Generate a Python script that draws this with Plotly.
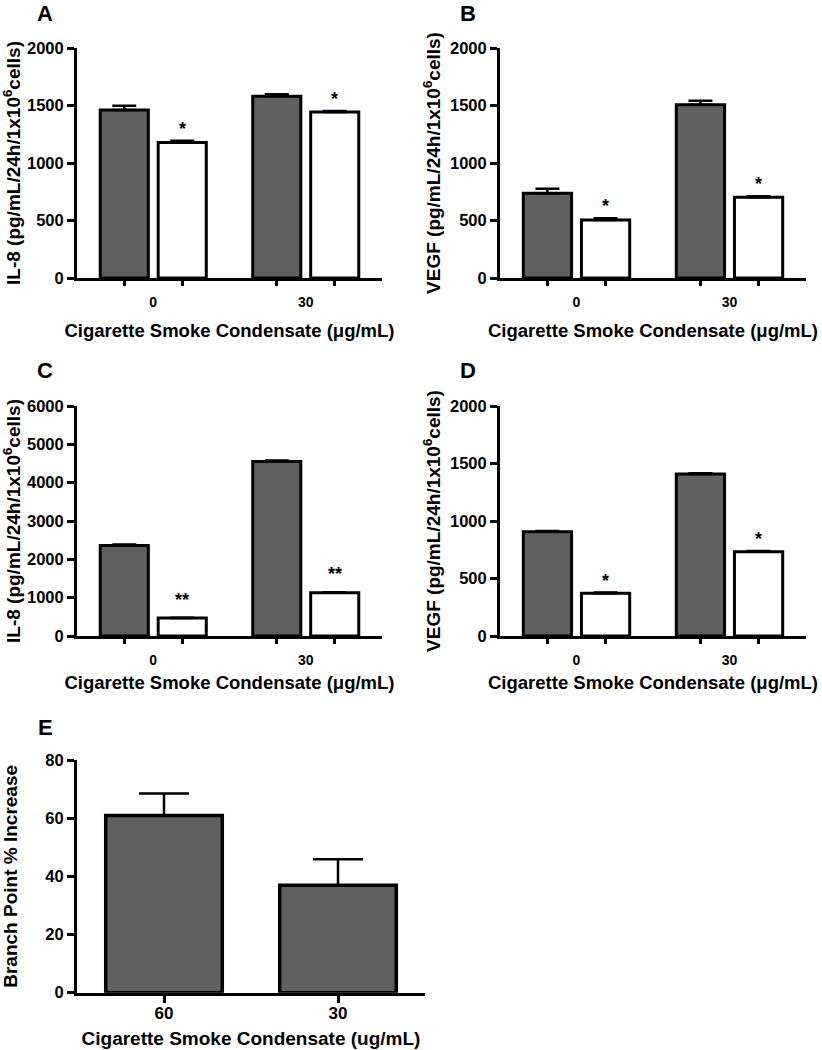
import plotly.graph_objects as go

# ---------------- data ----------------
groups = ["0", "30"]

a_gray = [1461, 1580]
a_gray_err = [1498, 1597]
a_white = [1178, 1443]
a_white_err = [1193, 1452]

b_gray = [737, 1507]
b_gray_err = [777, 1542]
b_white = [504, 702]
b_white_err = [519, 711]

c_gray = [2359, 4551]
c_gray_err = [2385, 4575]
c_white = [468, 1128]
c_white_err = [478, 1140]

d_gray = [907, 1409]
d_gray_err = [912, 1416]
d_white = [371, 733]
d_white_err = [378, 740]

e_groups = ["60", "30"]
e_vals = [60.9, 36.9]
e_err = [68.5, 45.9]

a_stars = ["*", "*"]
b_stars = ["*", "*"]
c_stars = ["**", "**"]
d_stars = ["*", "*"]

# ---------------- styling ----------------
W, H = 822, 1050
GRAY = "#606060"
FONT = "Liberation Sans, Arial, sans-serif"
BARGAP = 0.24
GROUPGAP = 0.17


def fx(px):
    return px / W


def fy(py):
    return 1 - py / H


fig = go.Figure()

# key, data..., x-domain px, y-domain px, ymax, dtick, y title, letter pos, y-title standoff,
# star shift, letter, x-title standoff
panels = [
    ("", a_gray, a_gray_err, a_white, a_white_err, a_stars, (77, 382), (48, 278), 2000, 500,
     "IL-8 (pg/mL/24h/1x10<sup>6</sup>cells)", (45, 14), 8, 12, "A", 16),
    ("2", b_gray, b_gray_err, b_white, b_white_err, b_stars, (500, 806), (48, 278), 2000, 500,
     "VEGF (pg/mL/24h/1x10<sup>6</sup>cells)", (468, 14), 5, 12, "B", 16),
    ("3", c_gray, c_gray_err, c_white, c_white_err, c_stars, (77, 382), (406, 636), 6000, 1000,
     "IL-8 (pg/mL/24h/1x10<sup>6</sup>cells)", (45, 370), 8, 18, "C", 10),
    ("4", d_gray, d_gray_err, d_white, d_white_err, d_stars, (500, 806), (406, 636), 2000, 500,
     "VEGF (pg/mL/24h/1x10<sup>6</sup>cells)", (468, 370), 5, 12, "D", 10),
]

xtitle = "Cigarette Smoke Condensate (\u03bcg/mL)"
layout_axes = {}
annotations = []

for i, (k, g, ge, w, we, stars, xd, yd, ymax, dt, ytitle, lpos, ystand, sshift, letter, xstand) in enumerate(panels):
    xa = "x" + k
    ya = "y" + k
    fig.add_trace(go.Bar(
        x=groups, y=g, xaxis=xa, yaxis=ya,
        marker=dict(color=GRAY, line=dict(color="black", width=3)),
        error_y=dict(type="data", symmetric=False,
                     array=[e - v for e, v in zip(ge, g)],
                     arrayminus=[0] * len(g), color="black", thickness=2.5, width=12),
        showlegend=False, hoverinfo="skip",
    ))
    fig.add_trace(go.Bar(
        x=groups, y=w, xaxis=xa, yaxis=ya,
        marker=dict(color="white", line=dict(color="black", width=3)),
        error_y=dict(type="data", symmetric=False,
                     array=[e - v for e, v in zip(we, w)],
                     arrayminus=[0] * len(w), color="black", thickness=2.5, width=12),
        showlegend=False, hoverinfo="skip",
    ))
    slot = (1 - BARGAP) / 2
    xname = "xaxis" + k
    yname = "yaxis" + k
    layout_axes[xname] = dict(
        domain=[fx(xd[0]), fx(xd[1])], anchor=ya, type="category", automargin=False,
        range=[-0.5, 1.5], showline=True, linecolor="black", linewidth=3,
        ticks="", showgrid=False, zeroline=False,
        tickfont=dict(size=14), ticklabelstandoff=9,
        title=dict(text=xtitle, font=dict(size=18.5), standoff=xstand),
    )
    layout_axes[yname] = dict(
        domain=[fy(yd[1]), fy(yd[0])], anchor=xa, range=[0, ymax], automargin=False,
        tickmode="linear", tick0=0, dtick=dt,
        showline=True, linecolor="black", linewidth=3,
        ticks="outside", ticklen=7, tickwidth=3, tickcolor="black",
        showgrid=False, zeroline=False, tickfont=dict(size=16.5),
        title=dict(text=ytitle, font=dict(size=19), standoff=ystand),
    )
    # overlay axis carrying the tick marks at the bar centres
    ov = "xaxis" + str(6 + i)
    tickpos = []
    for gi in range(len(groups)):
        tickpos += [gi - slot / 2, gi + slot / 2]
    layout_axes[ov] = dict(
        overlaying=xa, anchor=ya, range=[-0.5, 1.5], showline=False, automargin=False,
        ticks="outside", ticklen=7, tickwidth=3, tickcolor="black",
        tickvals=tickpos, showticklabels=False, showgrid=False, zeroline=False,
    )
    # significance stars above the white bars
    for gi, s in enumerate(stars):
        annotations.append(dict(
            x=gi + slot / 2, y=we[gi], xref=ov.replace("axis", ""), yref=ya,
            text=s, showarrow=False, yanchor="bottom", yshift=sshift - 12,
            font=dict(size=18),
        ))
    annotations.append(dict(
        x=fx(lpos[0]), y=fy(lpos[1]), xref="paper", yref="paper", text=letter,
        showarrow=False, xanchor="center", yanchor="middle", font=dict(size=22),
    ))

# panel E
fig.add_trace(go.Bar(
    x=e_groups, y=e_vals, xaxis="x5", yaxis="y5", width=0.67,
    marker=dict(color=GRAY, line=dict(color="black", width=3.5)),
    error_y=dict(type="data", symmetric=False,
                 array=[e - v for e, v in zip(e_err, e_vals)],
                 arrayminus=[0] * len(e_vals), color="black", thickness=2.5, width=25),
    showlegend=False, hoverinfo="skip",
))
layout_axes["xaxis5"] = dict(
    domain=[fx(77), fx(425)], anchor="y5", type="category", range=[-0.5, 1.5],
    automargin=False, showline=True, linecolor="black", linewidth=3,
    ticks="outside", ticklen=7, tickwidth=3, tickcolor="black",
    showgrid=False, zeroline=False, tickfont=dict(size=17), ticklabelstandoff=-4,
    title=dict(text="Cigarette Smoke Condensate (ug/mL)", font=dict(size=19), standoff=10),
)
layout_axes["yaxis5"] = dict(
    domain=[fy(992.7), fy(760)], anchor="x5", range=[0, 80], automargin=False,
    tickmode="linear", tick0=0, dtick=20,
    showline=True, linecolor="black", linewidth=3,
    ticks="outside", ticklen=7, tickwidth=3, tickcolor="black",
    showgrid=False, zeroline=False, tickfont=dict(size=16.5),
    title=dict(text="Branch Point % Increase", font=dict(size=19), standoff=28),
)
annotations.append(dict(
    x=fx(45), y=fy(727), xref="paper", yref="paper", text="E",
    showarrow=False, xanchor="center", yanchor="middle", font=dict(size=22),
))

fig.update_layout(
    template="none",
    width=W, height=H,
    margin=dict(l=0, r=0, t=0, b=0, pad=0),
    paper_bgcolor="white", plot_bgcolor="white",
    font=dict(family=FONT, color="black", weight="bold"),
    barmode="group", bargap=BARGAP, bargroupgap=GROUPGAP,
    annotations=annotations,
    **layout_axes,
)

fig.write_html("out.html", post_script="document.body.style.margin='0';",
               config={"displayModeBar": False})
